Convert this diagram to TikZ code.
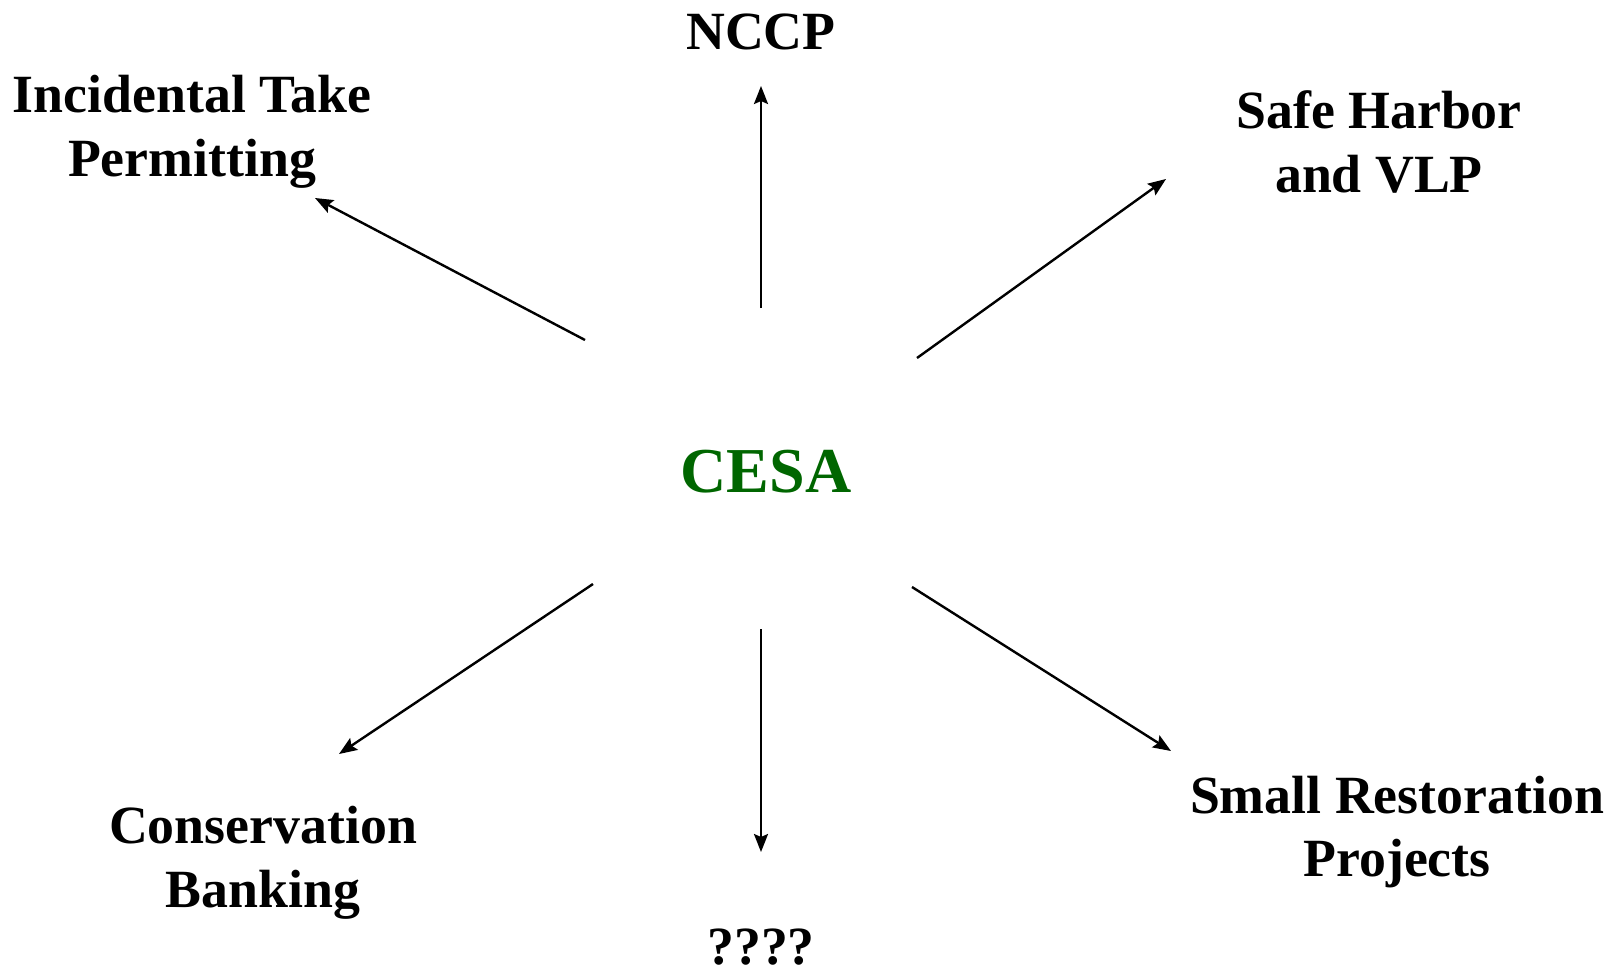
\documentclass[tikz,border=0pt]{standalone}
\usepackage{fontspec}
\setmainfont{Liberation Serif}
\usetikzlibrary{arrows.meta}
\definecolor{cesagreen}{RGB}{0,102,0}
\begin{document}
\begin{tikzpicture}[x=0.5pt,y=-0.5pt,
  lbl/.style={font=\bfseries\fontsize{26.9}{31.8}\selectfont, align=center, inner sep=0pt},
  arr/.style={line width=1.2pt, -{Stealth[length=9pt,width=7pt,inset=1.5pt]}}]
\useasboundingbox (0,0) rectangle (1617,970);
\node[lbl] (nccp) at (761,32) {NCCP};
\node[lbl] (itp) at (192,132) {Incidental Take\\Permitting};
\node[lbl] (sh) at (1379,142) {Safe Harbor\\and VLP};
\node[font=\bfseries\fontsize{32}{36}\selectfont, text=cesagreen, inner sep=0pt] (cesa) at (766,472) {CESA};
\node[lbl] (cb) at (263,863) {Conservation\\Banking};
\node[lbl] (q) at (761,947) {????};
\node[lbl] (srp) at (1397,832) {Small Restoration\\Projects};
\coordinate (s1) at (761,308); \coordinate (e1) at (761,86);
\coordinate (s2) at (585,340); \coordinate (e2) at (315,198);
\coordinate (s3) at (917,358); \coordinate (e3) at (1166,179);
\coordinate (s4) at (593,584); \coordinate (e4) at (339,754);
\coordinate (s5) at (761,629); \coordinate (e5) at (761,852);
\coordinate (s6) at (912,587); \coordinate (e6) at (1171,751);
\draw[arr] (s1) -- (e1);
\draw[arr] (s2) -- (e2);
\draw[arr] (s3) -- (e3);
\draw[arr] (s4) -- (e4);
\draw[arr] (s5) -- (e5);
\draw[arr] (s6) -- (e6);
\end{tikzpicture}
\end{document}
